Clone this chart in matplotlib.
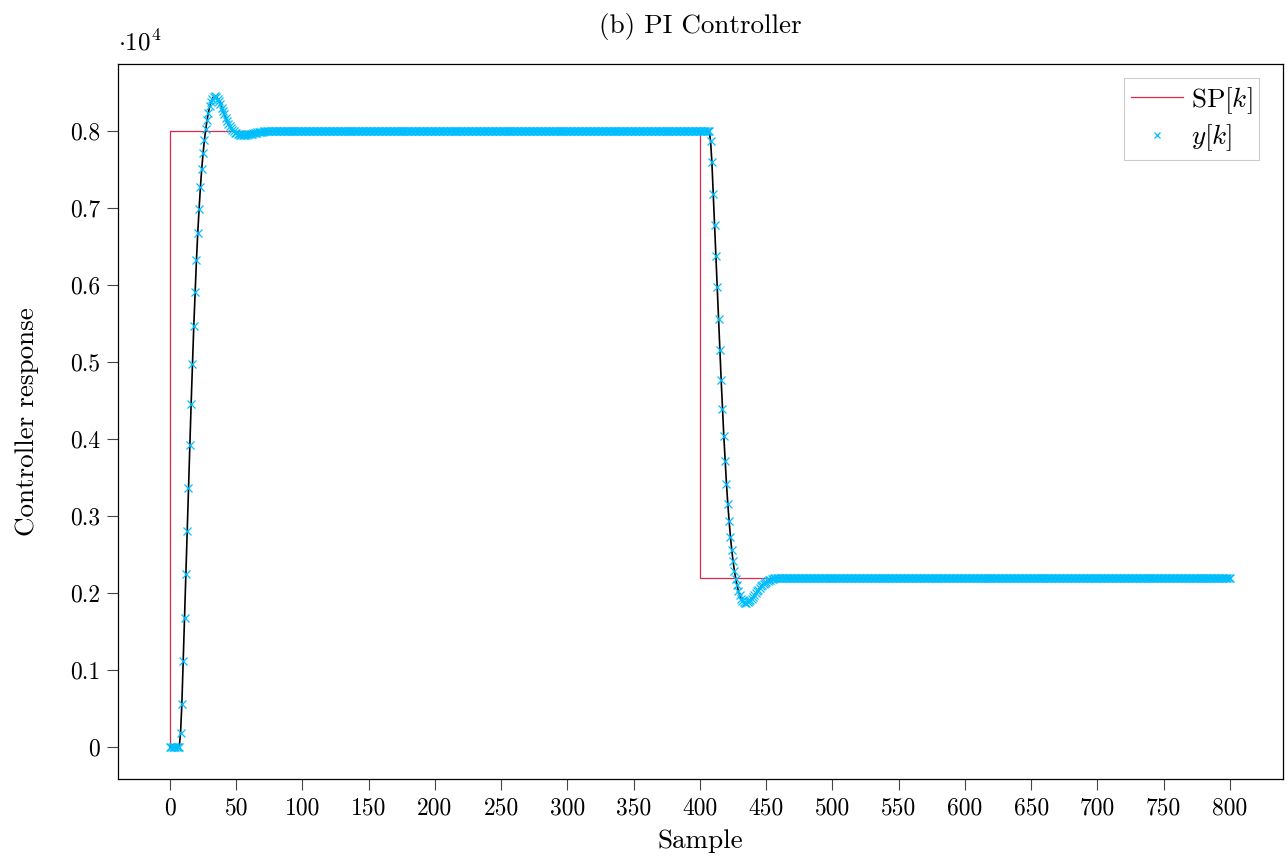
import matplotlib
matplotlib.use("Agg")
import matplotlib.pyplot as plt
import numpy as np

plt.rcParams['font.family'] = 'serif'
plt.rcParams['font.serif'] = ['cmr10', 'DejaVu Serif']
plt.rcParams['mathtext.fontset'] = 'cm'
plt.rcParams['axes.unicode_minus'] = False

# Set point: step breakpoints (sample, value)
sp_k = [0, 0, 400, 800]
sp_v = [0, 8000, 2200, 2200]

# Controller output y[k]
rise = [0, 0, 0, 0, 0, 0, 0, 0,
        180, 560, 1120, 1680, 2240, 2800, 3360, 3920, 4460, 4980,
        5470, 5910, 6320, 6680, 6990, 7270, 7510, 7710, 7880, 8020,
        8140, 8240, 8320, 8380, 8420, 8445, 8450, 8440, 8420, 8390,
        8350, 8305, 8260, 8215, 8170, 8130, 8095, 8060, 8035, 8010,
        7995, 7980, 7970, 7962, 7956, 7952, 7950, 7949, 7950, 7951,
        7953, 7956, 7959, 7962, 7966, 7970, 7974, 7978, 7981, 7984,
        7987, 7990, 7992, 7994, 7995, 7997, 7998, 7999]
hold_high = [8000] * (408 - len(rise))
fall = [7870, 7594, 7188, 6782, 6376, 5970, 5564, 5158, 4766, 4390,
        4034, 3715, 3418, 3157, 2932, 2729, 2555, 2410, 2287, 2185,
        2098, 2026, 1968, 1924, 1895, 1877, 1872, 1872, 1878, 1890,
        1906, 1926, 1948, 1972, 1996, 2020, 2043, 2065, 2085, 2103,
        2119, 2133, 2146, 2157, 2166, 2174, 2180, 2185, 2189, 2192,
        2194, 2196, 2197, 2198, 2199, 2199]
hold_low = [2200] * (801 - 408 - len(fall))
y = np.array(rise + hold_high + fall + hold_low, dtype=float)
k = np.arange(len(y))

fig = plt.figure(figsize=(12.87, 8.57), dpi=100)
ax = fig.add_axes([118 / 1287, 1 - 779 / 857, 1165 / 1287, 715 / 857])

ax.plot(sp_k, sp_v, drawstyle='steps-post', color='#E0284F', lw=0.9, label=r'SP$[k]$')
ax.plot(k, y, color='black', lw=1.2)
ax.plot(k, y, ls='none', marker='x', ms=5.5, mew=0.9, color='#00BFFF', label=r'$y[k]$')

ax.set_xlim(-39.2, 840)
ax.set_ylim(-416, 8870)
ax.set_xticks(np.arange(0, 801, 50))
yt = np.arange(0, 8001, 1000)
ax.set_yticks(yt)
ax.set_yticklabels(['0'] + ['%.1f' % (v / 1e4) for v in yt[1:]])
ax.tick_params(direction='out', length=8, width=0.8, labelsize=17, pad=5, color='#444444')
for s in ax.spines.values():
    s.set_linewidth(0.9)

ax.text(0.0, 1.012, r'$\cdot 10^4$', transform=ax.transAxes, fontsize=18, ha='left', va='bottom')
ax.set_title('(b) PI Controller', fontsize=19.5, pad=22)
ax.set_xlabel('Sample', fontsize=19.5, labelpad=7)
ax.set_ylabel('Controller response', fontsize=19.5, labelpad=22)

leg = ax.legend(loc='upper right', bbox_to_anchor=(0.9794, 0.9804), borderaxespad=0,
                fontsize=19.5, frameon=True, fancybox=False,
                edgecolor='#cccccc', framealpha=1, handlelength=1.9,
                handletextpad=0.3, labelspacing=0.25, borderpad=0.25, markerscale=0.9)
leg.get_frame().set_linewidth(0.8)

fig.savefig('out.png', dpi=100)
